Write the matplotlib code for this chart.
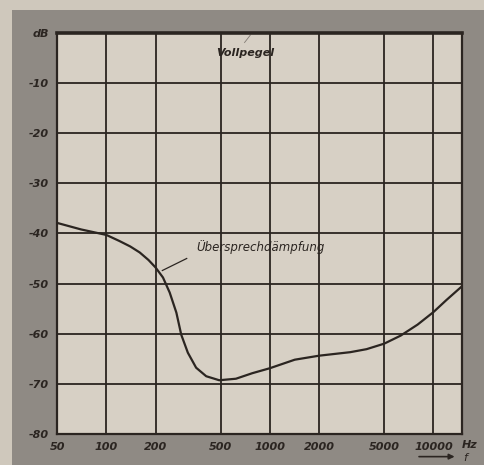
import matplotlib
matplotlib.use('Agg')
import matplotlib.pyplot as plt
from matplotlib.patches import Rectangle

# Übersprechdämpfung über Frequenz
freq = [50, 70, 100, 120, 140, 160, 181, 200, 222, 244, 268, 287, 315, 354,
        408, 490, 620, 780, 1000, 1420, 2000, 3100, 3900, 5000, 6300, 8000,
        10000, 12000, 15000]
damp = [-37.9, -39.2, -40.3, -41.5, -42.6, -43.8, -45.3, -46.8, -48.8, -51.8,
        -55.8, -60.2, -63.8, -66.8, -68.5, -69.3, -69.0, -67.9, -66.9, -65.2,
        -64.4, -63.7, -63.1, -62.0, -60.4, -58.2, -55.7, -53.3, -50.5]

x_ticks = [50, 100, 200, 500, 1000, 2000, 5000, 10000]
x_labels = ['50', '100', '200', '500', '1000', '2000', '5000', '10000']
y_ticks = [0, -10, -20, -30, -40, -50, -60, -70, -80]
y_labels = ['dB', '-10', '-20', '-30', '-40', '-50', '-60', '-70', '-80']

ink = '#2b2521'
paper = '#d7d0c5'

fig = plt.figure(figsize=(4.84, 4.65), dpi=100)
fig.patch.set_facecolor('#cfc8bc')
# grauer Rand des Fotos
fig.patches.append(Rectangle((0.025, 0), 0.975, 0.978, transform=fig.transFigure,
                             facecolor='#8f8a84', edgecolor='none', zorder=-5))

ax = fig.add_axes([0.118, 0.067, 0.837, 0.862])
ax.set_zorder(1)
ax.set_facecolor(paper)
ax.set_xscale('log')
ax.set_xlim(50, 15000)
ax.set_ylim(-80, 0)

ax.set_xticks(x_ticks)
ax.set_xticklabels(x_labels)
ax.minorticks_off()
ax.set_yticks(y_ticks)
ax.set_yticklabels(y_labels)
ax.tick_params(length=0, pad=6, labelsize=8, colors=ink)
for lab in ax.get_xticklabels() + ax.get_yticklabels():
    lab.set_fontstyle('italic')
    lab.set_fontweight('bold')

ax.grid(True, color=ink, linewidth=1.3)
for s in ax.spines.values():
    s.set_color(ink)
    s.set_linewidth(1.6)
ax.spines['top'].set_linewidth(2.6)

ax.plot(freq, damp, color=ink, linewidth=1.6, solid_joinstyle='round',
        solid_capstyle='round', zorder=3)

# Beschriftungen
ax.text(710, -3.9, 'Vollpegel', fontsize=8, fontstyle='italic', fontweight='bold',
        color=ink, ha='center', va='center')
ax.plot([700, 760], [-1.9, -0.4], color=ink, linewidth=0.6, alpha=0.5)

ax.text(880, -42.8, 'Übersprechdämpfung', fontsize=8.5, fontstyle='italic',
        color=ink, ha='center', va='center')
ax.plot([220, 310], [-47.4, -45.0], color=ink, linewidth=0.9)

fig.text(0.955, 0.043, 'Hz', fontsize=8, fontstyle='italic', fontweight='bold',
         color=ink, ha='left', va='center')
fig.text(0.958, 0.014, 'f', fontsize=8, fontstyle='italic', color=ink,
         ha='left', va='center')
ax.annotate('', xy=(0.945, 0.018), xytext=(0.86, 0.018),
            xycoords='figure fraction', annotation_clip=False,
            arrowprops=dict(arrowstyle='-|>', color=ink, lw=1.2,
                            mutation_scale=8))

fig.savefig('out.png', dpi=100, facecolor=fig.get_facecolor())
